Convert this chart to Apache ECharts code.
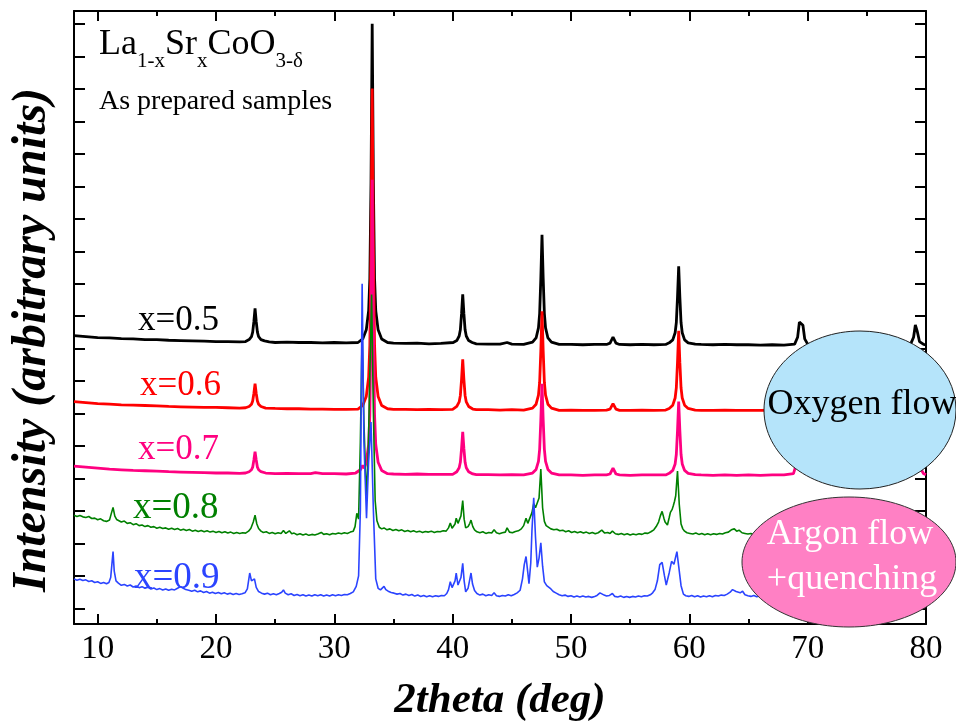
<!DOCTYPE html>
<html>
<head>
<meta charset="utf-8">
<title>La1-xSrxCoO3 XRD</title>
<script src="https://cdn.jsdelivr.net/npm/echarts@6/dist/echarts.min.js"></script>
<style>
  html, body { margin: 0; padding: 0; background: #fff; }
  #chart { width: 956px; height: 727px; }
</style>
</head>
<body>
<div id="chart"></div>
<script>
// x tick values (2theta, deg)
const xMajorTicks = [10, 20, 30, 40, 50, 60, 70, 80];
const xMinorTicks = [15, 25, 35, 45, 55, 65, 75];
const yTicks = [0, 1, 2, 3, 4, 5, 6, 7, 8, 9, 10, 11, 12, 13, 14, 15, 16, 17, 18];

const sampleNames = ['x=0.5', 'x=0.6', 'x=0.7', 'x=0.8', 'x=0.9'];

// [2theta, intensity (stack offset already applied)]
const pattern05 = [[8,8.40],[9,8.37],[10,8.34],[11,8.33],[12,8.31],[13,8.30],[14,8.28],[15,8.28],[16,8.26],[17,8.25],[18,8.24],[19,8.23],[20,8.22],[21,8.22],[22,8.21],[22.5,8.22],[22.8,8.28],[23.0,8.37],[23.1,8.51],[23.2,8.83],[23.3,9.24],[23.4,8.83],[23.5,8.51],[23.6,8.37],[23.8,8.28],[24.1,8.24],[24.5,8.21],[25,8.19],[26,8.20],[27,8.19],[28,8.19],[29,8.18],[30,8.19],[31,8.18],[32,8.19],[32.4,8.3],[32.7,8.58],[32.9,9.17],[33.0,10.15],[33.1,13.1],[33.2,18.01],[33.3,13.1],[33.4,10.15],[33.5,9.17],[33.7,8.58],[34.0,8.3],[34.5,8.19],[35,8.17],[36,8.16],[37,8.17],[38,8.15],[39,8.16],[40.05,8.19],[40.35,8.25],[40.55,8.39],[40.65,8.58],[40.75,9.07],[40.85,9.67],[40.95,9.07],[41.05,8.58],[41.15,8.39],[41.35,8.25],[41.65,8.19],[42,8.15],[43,8.14],[44,8.14],[44.6,8.19],[45,8.14],[46,8.13],[46.75,8.2],[47.05,8.33],[47.25,8.64],[47.35,9.08],[47.45,10.16],[47.55,11.51],[47.65,10.16],[47.75,9.08],[47.85,8.64],[48.05,8.33],[48.35,8.2],[49,8.13],[50,8.13],[51,8.12],[52,8.13],[53,8.13],[53.3,8.17],[53.55,8.36],[53.8,8.17],[54.1,8.13],[55,8.12],[56,8.13],[57,8.12],[58,8.13],[58.3,8.18],[58.6,8.27],[58.8,8.49],[58.9,8.80],[59.0,9.58],[59.1,10.54],[59.2,9.58],[59.3,8.80],[59.4,8.49],[59.6,8.27],[59.9,8.18],[60.5,8.14],[61,8.13],[62,8.12],[63,8.13],[64,8.12],[65,8.12],[66,8.11],[67,8.12],[68,8.11],[68.9,8.14],[69.15,8.35],[69.3,8.82],[69.45,8.88],[69.6,8.72],[69.75,8.3],[70.0,8.14],[71,8.11],[72,8.10],[73,8.11],[74,8.10],[75,8.11],[76,8.11],[77,8.10],[78,8.11],[78.7,8.14],[78.95,8.35],[79.1,8.73],[79.25,8.55],[79.45,8.22],[79.8,8.13],[80,8.12]];

const pattern06 = [[8,6.37],[9,6.34],[10,6.31],[11,6.29],[12,6.27],[13,6.26],[14,6.25],[15,6.24],[16,6.22],[17,6.21],[18,6.20],[19,6.19],[20,6.19],[21,6.18],[22,6.17],[22.5,6.18],[22.8,6.22],[23.0,6.29],[23.1,6.39],[23.2,6.62],[23.3,6.92],[23.4,6.62],[23.5,6.39],[23.6,6.29],[23.8,6.22],[24.2,6.17],[25,6.16],[26,6.15],[27,6.15],[28,6.14],[29,6.14],[30,6.13],[31,6.13],[32,6.14],[32.4,6.25],[32.7,6.53],[32.9,7.12],[33.0,8.1],[33.1,11.07],[33.2,16.01],[33.3,11.07],[33.4,8.1],[33.5,7.12],[33.7,6.53],[34.0,6.25],[34.5,6.15],[35,6.13],[36,6.13],[37,6.12],[38,6.13],[39,6.12],[40,6.13],[40.35,6.22],[40.55,6.36],[40.65,6.56],[40.75,7.05],[40.85,7.67],[40.95,7.05],[41.05,6.56],[41.15,6.36],[41.35,6.22],[41.7,6.14],[42,6.12],[43,6.12],[44,6.11],[45,6.12],[46,6.11],[46.75,6.17],[47.05,6.29],[47.25,6.57],[47.35,6.96],[47.45,7.93],[47.55,9.15],[47.65,7.93],[47.75,6.96],[47.85,6.57],[48.05,6.29],[48.35,6.17],[49,6.10],[50,6.11],[51,6.10],[52,6.10],[53,6.11],[53.3,6.14],[53.55,6.31],[53.8,6.14],[54.1,6.10],[55,6.10],[56,6.11],[57,6.10],[58,6.11],[58.3,6.16],[58.6,6.26],[58.8,6.48],[58.9,6.79],[59.0,7.57],[59.1,8.55],[59.2,7.57],[59.3,6.79],[59.4,6.48],[59.6,6.26],[59.9,6.16],[60.5,6.11],[61,6.10],[62,6.10],[63,6.11],[64,6.10],[65,6.10],[66,6.10],[67,6.11],[68,6.10],[69,6.14],[69.2,6.4],[69.35,6.9],[69.5,6.95],[69.65,6.7],[69.8,6.3],[70.1,6.12],[71,6.10],[72,6.10],[73,6.10],[74,6.10],[75,6.10],[76,6.10],[77,6.10],[78,6.10],[78.8,6.14],[79.0,6.4],[79.15,6.75],[79.3,6.55],[79.5,6.2],[79.8,6.11],[80,6.10]];

const pattern07 = [[8,4.38],[9,4.35],[10,4.32],[11,4.29],[12,4.27],[13,4.25],[14,4.24],[15,4.23],[16,4.21],[17,4.20],[18,4.19],[19,4.18],[20,4.17],[21,4.17],[22,4.16],[22.5,4.17],[22.8,4.21],[23.0,4.27],[23.1,4.35],[23.2,4.57],[23.3,4.83],[23.4,4.57],[23.5,4.35],[23.6,4.27],[23.8,4.21],[24.2,4.17],[25,4.15],[26,4.16],[27,4.15],[28,4.15],[28.4,4.18],[29,4.15],[30,4.15],[31,4.14],[31.8,4.17],[32.2,4.27],[32.4,4.40],[32.55,4.32],[32.7,4.5],[32.9,5.05],[33.0,5.95],[33.1,8.67],[33.2,13.2],[33.3,8.67],[33.4,5.95],[33.5,5.05],[33.7,4.5],[34.0,4.25],[34.5,4.15],[35,4.14],[36,4.13],[37,4.14],[38,4.13],[39,4.13],[40,4.13],[40.35,4.21],[40.55,4.33],[40.65,4.50],[40.75,4.92],[40.85,5.44],[40.95,4.92],[41.05,4.50],[41.15,4.33],[41.35,4.21],[41.7,4.14],[42,4.12],[43,4.12],[44,4.11],[45,4.12],[46,4.11],[46.75,4.17],[47.05,4.28],[47.25,4.53],[47.35,4.90],[47.45,5.80],[47.55,6.92],[47.65,5.80],[47.75,4.90],[47.85,4.53],[48.05,4.28],[48.35,4.17],[49,4.11],[50,4.11],[51,4.10],[52,4.11],[53,4.11],[53.3,4.14],[53.55,4.32],[53.8,4.14],[54.1,4.11],[55,4.10],[56,4.11],[57,4.11],[58,4.11],[58.3,4.16],[58.6,4.25],[58.8,4.45],[58.9,4.74],[59.0,5.47],[59.1,6.37],[59.2,5.47],[59.3,4.74],[59.4,4.45],[59.6,4.25],[59.9,4.16],[60.5,4.12],[61,4.11],[62,4.10],[63,4.11],[64,4.10],[65,4.11],[66,4.10],[67,4.11],[68,4.11],[68.8,4.15],[69.05,4.45],[69.25,5.0],[69.4,5.05],[69.55,4.85],[69.7,4.4],[70.0,4.14],[71,4.11],[72,4.10],[73,4.11],[74,4.10],[75,4.11],[76,4.10],[77,4.11],[78,4.11],[78.8,4.16],[79.05,4.5],[79.2,4.85],[79.35,4.65],[79.55,4.3],[79.8,4.15],[80,4.12]];

const pattern08 = [[8,2.87],[8.25,2.83],[8.5,2.86],[8.75,2.82],[9,2.80],[9.25,2.83],[9.5,2.77],[9.75,2.78],[10,2.73],[10.25,2.76],[10.5,2.70],[10.75,2.68],[11,2.72],[11.15,2.92],[11.3,3.11],[11.45,2.84],[11.6,2.74],[11.75,2.70],[12,2.66],[12.25,2.69],[12.5,2.62],[12.75,2.64],[13,2.58],[13.25,2.61],[13.5,2.55],[13.75,2.57],[14,2.52],[14.25,2.55],[14.5,2.50],[14.75,2.52],[15,2.47],[15.25,2.50],[15.5,2.46],[15.75,2.48],[16,2.44],[16.25,2.47],[16.5,2.43],[16.75,2.46],[17,2.41],[17.25,2.44],[17.5,2.40],[17.75,2.43],[18,2.38],[18.25,2.41],[18.5,2.37],[18.75,2.40],[19,2.36],[19.25,2.39],[19.5,2.35],[19.75,2.38],[20,2.34],[20.25,2.37],[20.5,2.33],[20.75,2.36],[21,2.32],[21.25,2.35],[21.5,2.31],[21.75,2.34],[22,2.31],[22.25,2.33],[22.5,2.32],[22.75,2.38],[22.95,2.47],[23.15,2.66],[23.3,2.87],[23.45,2.60],[23.6,2.46],[23.8,2.38],[24,2.34],[24.25,2.36],[24.5,2.31],[24.75,2.34],[25,2.30],[25.25,2.33],[25.5,2.31],[25.7,2.40],[25.9,2.31],[26.2,2.39],[26.4,2.30],[26.6,2.32],[26.85,2.27],[27.1,2.30],[27.35,2.26],[27.6,2.29],[27.85,2.25],[28.1,2.28],[28.35,2.26],[28.6,2.29],[28.9,2.34],[29.1,2.28],[29.35,2.30],[29.6,2.27],[29.85,2.31],[30.1,2.29],[30.35,2.32],[30.6,2.30],[30.85,2.33],[31.1,2.31],[31.35,2.35],[31.6,2.38],[31.75,2.52],[31.9,2.93],[32.05,2.75],[32.2,5.14],[32.35,8.52],[32.5,5.74],[32.7,3.47],[32.85,4.53],[33,7.25],[33.15,9.67],[33.3,6.04],[33.45,3.32],[33.6,2.70],[33.8,2.50],[34,2.45],[34.2,2.48],[34.45,2.42],[34.7,2.45],[34.95,2.40],[35.2,2.43],[35.45,2.39],[35.7,2.42],[35.95,2.37],[36.2,2.40],[36.45,2.36],[36.7,2.39],[36.95,2.35],[37.2,2.38],[37.45,2.34],[37.7,2.37],[37.95,2.35],[38.2,2.38],[38.45,2.34],[38.7,2.37],[38.95,2.36],[39.2,2.39],[39.45,2.38],[39.65,2.48],[39.8,2.63],[39.95,2.47],[40.05,2.45],[40.2,2.60],[40.3,2.78],[40.45,2.62],[40.55,2.63],[40.7,2.85],[40.85,3.32],[40.97,2.75],[41.1,2.48],[41.3,2.52],[41.45,2.62],[41.55,2.72],[41.7,2.52],[41.85,2.42],[42.05,2.36],[42.3,2.33],[42.55,2.36],[42.8,2.31],[43.05,2.34],[43.3,2.32],[43.5,2.42],[43.7,2.33],[43.95,2.30],[44.2,2.33],[44.45,2.35],[44.6,2.48],[44.8,2.35],[45.05,2.33],[45.3,2.37],[45.55,2.39],[45.8,2.45],[46,2.55],[46.2,2.78],[46.35,2.62],[46.5,2.66],[46.7,2.95],[46.85,3.23],[47,3.10],[47.15,3.08],[47.3,3.40],[47.45,4.29],[47.6,3.10],[47.75,2.68],[47.9,2.55],[48.05,2.49],[48.3,2.45],[48.55,2.42],[48.8,2.44],[49.05,2.39],[49.3,2.41],[49.55,2.36],[49.8,2.39],[50.05,2.34],[50.3,2.37],[50.55,2.33],[50.8,2.36],[51.05,2.32],[51.3,2.35],[51.55,2.31],[51.8,2.34],[52.05,2.30],[52.3,2.33],[52.6,2.41],[52.85,2.32],[53.1,2.34],[53.3,2.31],[53.5,2.38],[53.75,2.30],[54,2.28],[54.25,2.31],[54.5,2.27],[54.75,2.30],[55,2.26],[55.25,2.29],[55.5,2.27],[55.75,2.30],[56,2.28],[56.25,2.32],[56.5,2.31],[56.75,2.36],[57,2.42],[57.2,2.52],[57.4,2.66],[57.55,2.85],[57.7,2.99],[57.85,2.78],[57.95,2.66],[58.15,2.57],[58.3,2.80],[58.4,2.96],[58.55,3.05],[58.65,3.17],[58.75,3.30],[58.85,3.47],[59,4.23],[59.15,3.20],[59.3,2.60],[59.45,2.45],[59.6,2.38],[59.8,2.33],[60.05,2.31],[60.3,2.29],[60.55,2.32],[60.8,2.28],[61.05,2.31],[61.3,2.27],[61.55,2.30],[61.8,2.27],[62.05,2.30],[62.3,2.28],[62.55,2.31],[62.8,2.29],[63.05,2.33],[63.3,2.35],[63.55,2.42],[63.8,2.45],[64,2.38],[64.2,2.41],[64.45,2.33],[64.7,2.31],[64.95,2.29],[65.2,2.31],[65.45,2.27],[65.7,2.29],[65.95,2.26],[66.2,2.28],[66.5,2.26],[67,2.27],[68,2.26],[69,2.28],[69.4,2.5],[70,2.27],[71,2.26],[72,2.26],[73,2.26],[74,2.25],[75,2.26],[76,2.26],[77,2.25],[78,2.26],[79,2.27],[80,2.26]];

const pattern09 = [[8,0.91],[8.25,0.87],[8.5,0.90],[8.75,0.86],[9,0.88],[9.25,0.83],[9.5,0.85],[9.75,0.80],[10,0.82],[10.25,0.77],[10.5,0.80],[10.75,0.76],[10.95,0.80],[11.1,0.95],[11.2,1.35],[11.3,1.75],[11.4,1.15],[11.55,0.85],[11.75,0.78],[12,0.71],[12.25,0.74],[12.5,0.69],[12.75,0.72],[13,0.66],[13.25,0.69],[13.5,0.64],[13.75,0.67],[14,0.62],[14.25,0.65],[14.5,0.60],[14.75,0.63],[15,0.58],[15.25,0.61],[15.5,0.57],[15.75,0.60],[16,0.56],[16.25,0.59],[16.5,0.57],[16.75,0.62],[17,0.67],[17.2,0.63],[17.45,0.58],[17.7,0.56],[17.95,0.53],[18.2,0.56],[18.45,0.51],[18.7,0.54],[18.95,0.49],[19.2,0.52],[19.45,0.47],[19.7,0.50],[19.95,0.46],[20.2,0.49],[20.45,0.45],[20.7,0.48],[20.95,0.44],[21.2,0.47],[21.45,0.43],[21.7,0.46],[21.95,0.43],[22.2,0.45],[22.45,0.48],[22.65,0.60],[22.85,1.09],[23,0.85],[23.1,0.82],[23.25,0.91],[23.4,0.65],[23.6,0.52],[23.85,0.47],[24.1,0.44],[24.35,0.47],[24.6,0.42],[24.85,0.45],[25.1,0.42],[25.35,0.46],[25.55,0.50],[25.7,0.57],[25.85,0.47],[26.1,0.42],[26.35,0.45],[26.6,0.40],[26.85,0.43],[27.1,0.39],[27.35,0.42],[27.6,0.38],[27.85,0.41],[28.1,0.38],[28.35,0.42],[28.6,0.39],[28.85,0.42],[29.1,0.38],[29.35,0.41],[29.6,0.38],[29.85,0.42],[30.1,0.39],[30.35,0.42],[30.6,0.40],[30.85,0.43],[31.1,0.42],[31.35,0.46],[31.6,0.51],[31.85,0.68],[32.05,1.0],[32.2,3.02],[32.35,10.0],[32.5,5.14],[32.72,2.78],[32.9,4.53],[33.1,5.74],[33.3,3.02],[33.5,0.91],[33.7,0.62],[33.9,0.57],[34.05,0.62],[34.2,0.68],[34.35,0.58],[34.55,0.53],[34.8,0.49],[35.05,0.47],[35.3,0.44],[35.55,0.46],[35.8,0.41],[36.05,0.44],[36.3,0.40],[36.55,0.43],[36.8,0.38],[37.05,0.41],[37.3,0.37],[37.55,0.40],[37.8,0.36],[38.05,0.39],[38.3,0.36],[38.55,0.39],[38.8,0.37],[39.05,0.40],[39.3,0.39],[39.5,0.46],[39.65,0.58],[39.8,0.82],[39.95,0.64],[40.05,0.66],[40.2,0.85],[40.3,1.09],[40.45,0.72],[40.55,0.69],[40.7,0.95],[40.85,1.39],[40.97,0.85],[41.1,0.51],[41.3,0.62],[41.45,0.90],[41.55,1.09],[41.68,0.75],[41.85,0.55],[42.05,0.46],[42.3,0.41],[42.55,0.44],[42.8,0.39],[43.05,0.42],[43.3,0.40],[43.5,0.48],[43.7,0.39],[43.95,0.37],[44.2,0.40],[44.45,0.38],[44.7,0.42],[44.95,0.39],[45.2,0.43],[45.45,0.48],[45.7,0.56],[45.9,0.91],[46.05,1.35],[46.2,1.60],[46.35,1.10],[46.45,0.76],[46.6,1.40],[46.7,2.40],[46.85,3.41],[47,2.20],[47.15,1.27],[47.3,1.55],[47.45,2.02],[47.6,1.30],[47.75,0.82],[47.95,0.70],[48.1,0.66],[48.3,0.60],[48.5,0.52],[48.75,0.47],[49,0.42],[49.25,0.39],[49.5,0.41],[49.75,0.37],[50,0.39],[50.25,0.35],[50.5,0.38],[50.75,0.35],[51,0.38],[51.25,0.35],[51.5,0.37],[51.75,0.34],[52,0.37],[52.2,0.40],[52.45,0.48],[52.6,0.54],[52.8,0.41],[53,0.38],[53.25,0.40],[53.5,0.46],[53.7,0.37],[53.95,0.35],[54.2,0.38],[54.45,0.34],[54.7,0.37],[54.95,0.34],[55.2,0.37],[55.45,0.35],[55.7,0.38],[55.95,0.36],[56.2,0.39],[56.45,0.38],[56.7,0.42],[56.9,0.48],[57.1,0.58],[57.3,0.85],[57.5,1.35],[57.7,1.42],[57.9,1.00],[58.05,0.72],[58.15,0.69],[58.3,1.10],[58.5,1.45],[58.7,1.36],[58.95,1.75],[59.1,1.30],[59.3,0.70],[59.5,0.44],[59.7,0.39],[59.95,0.37],[60.2,0.40],[60.45,0.36],[60.7,0.39],[60.95,0.35],[61.2,0.38],[61.45,0.36],[61.7,0.39],[61.95,0.36],[62.2,0.40],[62.45,0.38],[62.7,0.41],[62.95,0.40],[63.2,0.44],[63.45,0.50],[63.65,0.58],[63.8,0.63],[63.95,0.52],[64.1,0.46],[64.3,0.48],[64.5,0.53],[64.7,0.42],[64.95,0.39],[65.2,0.37],[65.45,0.40],[65.7,0.36],[65.95,0.39],[66.2,0.35],[66.45,0.38],[66.7,0.35],[67,0.37],[68,0.36],[69,0.37],[70,0.36],[71,0.36],[72,0.35],[73,0.36],[74,0.36],[75,0.35],[76,0.36],[77,0.35],[78,0.36],[79,0.36],[80,0.35]];

const patterns = [pattern05, pattern06, pattern07, pattern08, pattern09];
const colors = ['#000000', '#ff0000', '#ff0080', '#008000', '#2b44ff'];
const lineWidths = [2.8, 2.8, 2.8, 1.6, 1.6];
// label placement (pixels) and sizes
const labelPos = [[138, 321], [140, 386], [138, 450], [133, 508], [134, 578]];
const labelSizes = [35, 35, 35, 37, 37];

const serif = "'Liberation Serif', 'Times New Roman', Times, serif";

const chart = echarts.init(document.getElementById('chart'));

const frameAxis = (extra) => Object.assign({
    type: 'value',
    min: 8,
    max: 80,
    splitLine: { show: false },
    axisLine: { show: false, onZero: false },
    axisLabel: { show: false },
}, extra);

const yFrame = (position) => ({
    type: 'value',
    position: position,
    min: -0.48,
    max: 18.4,
    axisLine: { show: true, onZero: false, lineStyle: { color: '#000', width: 2 } },
    axisTick: { show: true, inside: true, length: 11, customValues: yTicks, lineStyle: { color: '#000', width: 2 } },
    axisLabel: { show: false },
    splitLine: { show: false },
});

const graphics = [];

// formula with subscripts
graphics.push({
    type: 'text',
    x: 99,
    y: 33,
    z: 50,
    style: {
        text: '{m|La}{s|1-x}{m|Sr}{s|x}{m|CoO}{s|3-δ}',
        verticalAlign: 'top',
        align: 'left',
        rich: {
            m: { fontFamily: serif, fontSize: 36, lineHeight: 36, padding: [0, 0, 12, 0], color: '#000' },
            s: { fontFamily: serif, fontSize: 21, lineHeight: 22, padding: [23, 0, 3, 0], color: '#000' },
        },
    },
});
graphics.push({
    type: 'text', x: 99, y: 102, z: 50,
    style: { text: 'As prepared samples', fontFamily: serif, fontSize: 28, fill: '#000', verticalAlign: 'middle' },
});

sampleNames.forEach((name, i) => {
    graphics.push({
        type: 'text', x: labelPos[i][0], y: labelPos[i][1], z: 50,
        style: { text: name, fontFamily: serif, fontSize: labelSizes[i], fill: colors[i], verticalAlign: 'middle' },
    });
});

// y axis title
graphics.push({
    type: 'text', x: 33, y: 340, rotation: Math.PI / 2, z: 50,
    style: {
        text: 'Intensity (arbitrary units)', fontFamily: serif, fontSize: 48,
        fontWeight: 'bold', fontStyle: 'italic', fill: '#000', align: 'center', verticalAlign: 'middle',
    },
});

// annotation bubbles
graphics.push({
    type: 'ellipse', z: 100,
    shape: { cx: 860, cy: 410, rx: 96, ry: 79 },
    style: { fill: '#b5e4fa', stroke: '#222', lineWidth: 1 },
});
graphics.push({
    type: 'text', x: 862, y: 405, z: 101,
    style: { text: 'Oxygen flow', fontFamily: serif, fontSize: 36, fill: '#000', align: 'center', verticalAlign: 'middle' },
});
graphics.push({
    type: 'ellipse', z: 100,
    shape: { cx: 849, cy: 562, rx: 107, ry: 65 },
    style: { fill: '#ff80c4', stroke: '#333', lineWidth: 1 },
});
graphics.push({
    type: 'text', x: 850, y: 535, z: 101,
    style: { text: 'Argon flow', fontFamily: serif, fontSize: 36, fill: '#fff', align: 'center', verticalAlign: 'middle' },
});
graphics.push({
    type: 'text', x: 852, y: 580, z: 101,
    style: { text: '+quenching', fontFamily: serif, fontSize: 36, fill: '#fff', align: 'center', verticalAlign: 'middle' },
});

chart.setOption({
    animation: false,
    backgroundColor: '#fff',
    grid: { left: 74, right: 30, top: 11, bottom: 91 },
    xAxis: [
        frameAxis({
            position: 'bottom',
            axisLine: { show: true, onZero: false, lineStyle: { color: '#000', width: 2 } },
            axisTick: { show: true, inside: true, length: 10, customValues: xMajorTicks, lineStyle: { color: '#000', width: 2 } },
            axisLabel: { show: true, customValues: xMajorTicks, margin: 9, color: '#000', fontFamily: serif, fontSize: 33 },
            name: '2theta (deg)',
            nameLocation: 'middle',
            nameGap: 55,
            nameTextStyle: { fontFamily: serif, fontSize: 43, fontWeight: 'bold', fontStyle: 'italic', color: '#000' },
        }),
        frameAxis({
            position: 'bottom',
            axisTick: { show: true, inside: true, length: 5, customValues: xMinorTicks, lineStyle: { color: '#000', width: 2 } },
        }),
        frameAxis({
            position: 'top',
            axisLine: { show: true, onZero: false, lineStyle: { color: '#000', width: 2 } },
            axisTick: { show: true, inside: true, length: 10, customValues: xMajorTicks, lineStyle: { color: '#000', width: 2 } },
        }),
        frameAxis({
            position: 'top',
            axisTick: { show: true, inside: true, length: 5, customValues: xMinorTicks, lineStyle: { color: '#000', width: 2 } },
        }),
    ],
    yAxis: [yFrame('left'), yFrame('right')],
    series: patterns.map((data, i) => ({
        name: sampleNames[i],
        type: 'line',
        xAxisIndex: 0,
        yAxisIndex: 0,
        data: data,
        showSymbol: false,
        symbol: 'none',
        smooth: false,
        z: 2 + i,
        lineStyle: { color: colors[i], width: lineWidths[i] },
    })),
    graphic: graphics,
});
</script>
</body>
</html>
